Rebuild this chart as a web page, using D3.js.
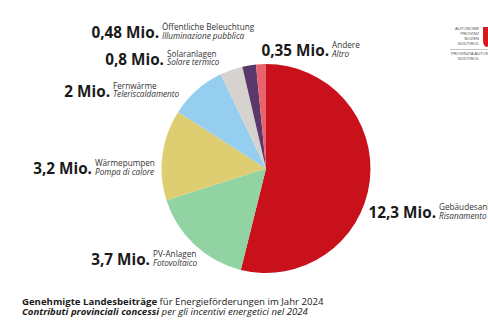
<!DOCTYPE html>
<html>
<head>
<meta charset="utf-8">
<script src="https://cdn.jsdelivr.net/npm/d3@7"></script>
<style>
  html, body { margin: 0; padding: 0; background: #fff; }
  svg { display: block; font-family: "Open Sans", sans-serif; }
</style>
</head>
<body>
<svg id="chart" width="488" height="326"></svg>
<script>
// Landesbeiträge für Energieförderungen 2024 (Mio. Euro)
const categoriesDe = ["Gebäudesanierung", "PV-Anlagen", "Wärmepumpen", "Fernwärme", "Solaranlagen", "Öffentliche Beleuchtung", "Andere"];
const categoriesIt = ["Risanamento edilizio", "Fotovoltaico", "Pompa di calore", "Teleriscaldamento", "Solare termico", "Illuminazione pubblica", "Altro"];
const values = [12.3, 3.7, 3.2, 2, 0.8, 0.48, 0.35];
const valueLabels = ["12,3 Mio.", "3,7 Mio.", "3,2 Mio.", "2 Mio.", "0,8 Mio.", "0,48 Mio.", "0,35 Mio."];
const colors = ["#c9111b", "#92d3a3", "#dfcd72", "#96cef0", "#d6d3ce", "#5a386c", "#e8636c"];

const svg = d3.select("#chart");
const cx = 266, cy = 168.5, radius = 104.5;

const pie = d3.pie().sort(null).value(d => d)(values);
const arc = d3.arc().innerRadius(0).outerRadius(radius);

svg.append("g")
  .attr("transform", `translate(${cx},${cy})`)
  .selectAll("path")
  .data(pie)
  .join("path")
  .attr("d", arc)
  .attr("fill", (d, i) => colors[i]);

// label placement: right edge of the amount, baseline
const labelPos = [
  [436, 218], [150, 265], [92, 174], [110, 96.5], [164, 64.5], [159, 38], [329, 56]
];

const labels = svg.append("g").selectAll("g")
  .data(values)
  .join("g")
  .attr("transform", (d, i) => `translate(${labelPos[i][0]},${labelPos[i][1]})`);

labels.append("text")
  .attr("text-anchor", "end")
  .attr("font-size", 15.3)
  .attr("font-weight", 700)
  .attr("fill", "#1a1a1a")
  .text((d, i) => valueLabels[i]);

labels.append("text")
  .attr("x", 3)
  .attr("y", -7.6)
  .attr("font-size", 8.2)
  .attr("fill", "#333")
  .text((d, i) => categoriesDe[i]);

labels.append("text")
  .attr("x", 3)
  .attr("y", 0.8)
  .attr("font-size", 8.2)
  .attr("font-style", "italic")
  .attr("fill", "#333")
  .text((d, i) => categoriesIt[i]);

// title
const title = svg.append("g").attr("fill", "#1a1a1a").attr("font-size", 9.6);
const t1 = title.append("text").attr("x", 22).attr("y", 305);
t1.append("tspan").attr("font-weight", 700).text("Genehmigte Landesbeiträge");
t1.append("tspan").text(" für Energieförderungen im Jahr 2024");
const t2 = title.append("text").attr("x", 22).attr("y", 314.6).attr("font-style", "italic");
t2.append("tspan").attr("font-weight", 700).text("Contributi provinciali concessi");
t2.append("tspan").text(" per gli incentivi energetici nel 2024");

// provincial logo
const logo = svg.append("g").attr("fill", "#555").attr("font-size", 4.2).attr("font-family", "Liberation Sans, sans-serif");
["AUTONOME", "PROVINZ", "BOZEN", "SÜDTIROL"].forEach((s, i) => {
  logo.append("text").attr("x", 479).attr("y", 30 + i * 5).attr("text-anchor", "end").text(s);
});
logo.append("line").attr("x1", 450).attr("x2", 488).attr("y1", 49.5).attr("y2", 49.5)
  .attr("stroke", "#888").attr("stroke-width", 0.5);
logo.append("text").attr("x", 451).attr("y", 55).text("PROVINZIA AUTONOMA DE BULSAN");
logo.append("text").attr("x", 479).attr("y", 60).attr("text-anchor", "end").text("SÜDTIROL");
logo.append("path")
  .attr("d", "M483,27 L490,27 L490,40 Q490,46 486.5,47 Q483,46 483,40 Z")
  .attr("fill", "#d71920");
</script>
</body>
</html>
